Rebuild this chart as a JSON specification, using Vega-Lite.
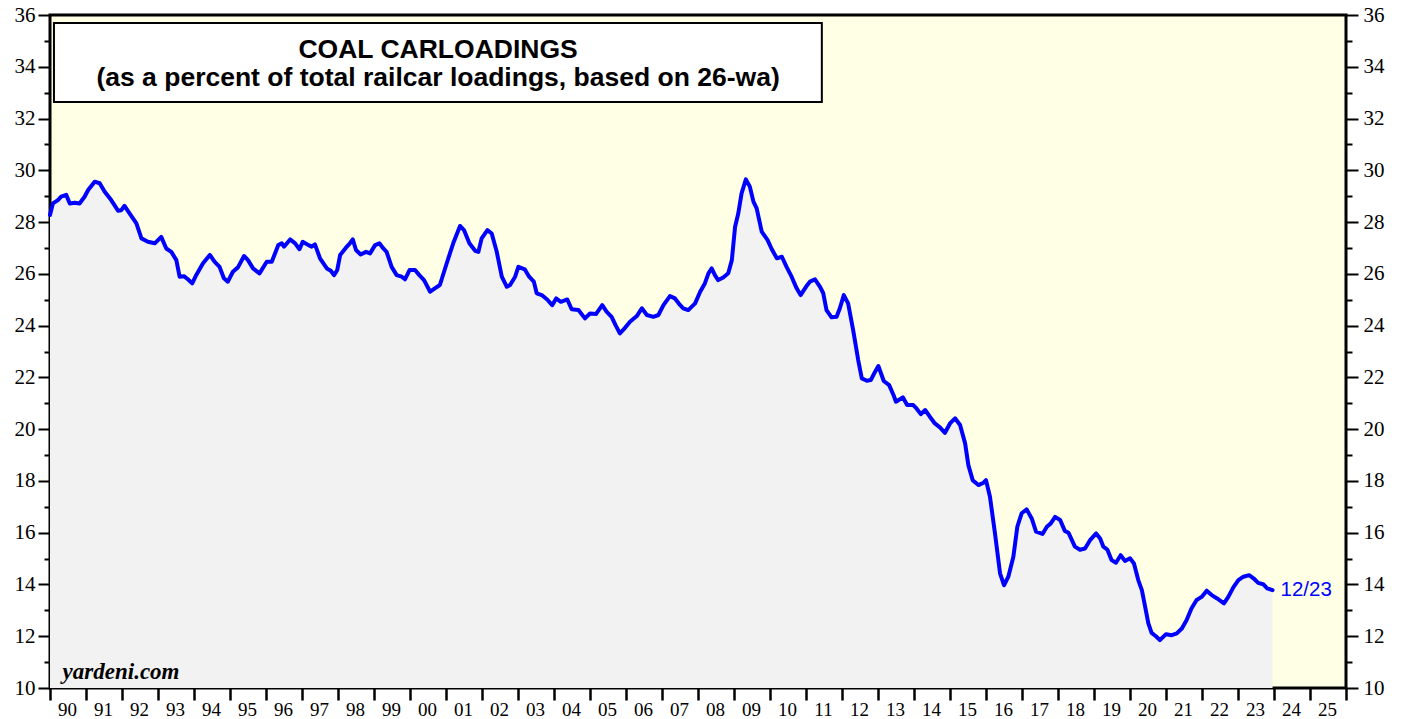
{
  "$schema": "https://vega.github.io/schema/vega-lite/v6.json",
  "width": 1296,
  "height": 673,
  "autosize": "none",
  "padding": {"left": 50, "top": 15, "right": 60, "bottom": 31},
  "background": "white",
  "title": {"text": "Figure 6.", "anchor": "start", "frame": "group", "dx": 17, "offset": 13, "baseline": "alphabetic", "font": "Liberation Sans", "fontSize": 24, "fontWeight": "bold", "color": "black"},
  "config": {
    "view": {"fill": "#FFFFE6", "stroke": "black", "strokeWidth": 3},
    "axis": {"domain": false, "grid": false, "labelFont": "Liberation Serif", "labelFontSize": 21, "labelColor": "black", "tickColor": "black", "labelOverlap": false, "labelFlush": false, "labelBound": false}
  },
  "data": {"values": [
    {"year": 1990.0, "value": 28.27}, {"year": 1990.08, "value": 28.72}, {"year": 1990.22, "value": 28.85}, {"year": 1990.31, "value": 28.98}, {"year": 1990.45, "value": 29.05}, {"year": 1990.55, "value": 28.72}, {"year": 1990.69, "value": 28.75}, {"year": 1990.82, "value": 28.72}, {"year": 1990.96, "value": 28.98}, {"year": 1991.06, "value": 29.24}, {"year": 1991.24, "value": 29.56}, {"year": 1991.38, "value": 29.5}, {"year": 1991.52, "value": 29.17}, {"year": 1991.7, "value": 28.85}, {"year": 1991.89, "value": 28.44}, {"year": 1991.98, "value": 28.46}, {"year": 1992.07, "value": 28.63}, {"year": 1992.21, "value": 28.34}, {"year": 1992.4, "value": 27.95}, {"year": 1992.54, "value": 27.37}, {"year": 1992.72, "value": 27.24}, {"year": 1992.91, "value": 27.18}, {"year": 1993.09, "value": 27.43}, {"year": 1993.23, "value": 26.98}, {"year": 1993.37, "value": 26.85}, {"year": 1993.51, "value": 26.53}, {"year": 1993.6, "value": 25.89}, {"year": 1993.72, "value": 25.91}, {"year": 1993.83, "value": 25.79}, {"year": 1993.95, "value": 25.63}, {"year": 1994.06, "value": 25.95}, {"year": 1994.25, "value": 26.41}, {"year": 1994.44, "value": 26.73}, {"year": 1994.57, "value": 26.47}, {"year": 1994.71, "value": 26.27}, {"year": 1994.83, "value": 25.83}, {"year": 1994.94, "value": 25.7}, {"year": 1995.08, "value": 26.08}, {"year": 1995.22, "value": 26.25}, {"year": 1995.39, "value": 26.69}, {"year": 1995.5, "value": 26.53}, {"year": 1995.64, "value": 26.21}, {"year": 1995.82, "value": 26.02}, {"year": 1996.02, "value": 26.47}, {"year": 1996.16, "value": 26.47}, {"year": 1996.25, "value": 26.79}, {"year": 1996.34, "value": 27.11}, {"year": 1996.44, "value": 27.18}, {"year": 1996.5, "value": 27.05}, {"year": 1996.67, "value": 27.33}, {"year": 1996.81, "value": 27.18}, {"year": 1996.93, "value": 26.95}, {"year": 1997.02, "value": 27.24}, {"year": 1997.18, "value": 27.11}, {"year": 1997.27, "value": 27.05}, {"year": 1997.36, "value": 27.14}, {"year": 1997.5, "value": 26.6}, {"year": 1997.69, "value": 26.21}, {"year": 1997.8, "value": 26.12}, {"year": 1997.89, "value": 25.95}, {"year": 1997.98, "value": 26.15}, {"year": 1998.06, "value": 26.73}, {"year": 1998.22, "value": 27.01}, {"year": 1998.33, "value": 27.18}, {"year": 1998.41, "value": 27.33}, {"year": 1998.5, "value": 26.92}, {"year": 1998.63, "value": 26.75}, {"year": 1998.78, "value": 26.85}, {"year": 1998.89, "value": 26.79}, {"year": 1999.03, "value": 27.11}, {"year": 1999.15, "value": 27.18}, {"year": 1999.26, "value": 26.98}, {"year": 1999.35, "value": 26.85}, {"year": 1999.49, "value": 26.27}, {"year": 1999.63, "value": 25.95}, {"year": 1999.77, "value": 25.89}, {"year": 1999.86, "value": 25.79}, {"year": 1999.99, "value": 26.15}, {"year": 2000.14, "value": 26.15}, {"year": 2000.26, "value": 25.95}, {"year": 2000.39, "value": 25.76}, {"year": 2000.56, "value": 25.31}, {"year": 2000.69, "value": 25.44}, {"year": 2000.83, "value": 25.57}, {"year": 2001.02, "value": 26.41}, {"year": 2001.2, "value": 27.18}, {"year": 2001.39, "value": 27.85}, {"year": 2001.5, "value": 27.69}, {"year": 2001.65, "value": 27.18}, {"year": 2001.81, "value": 26.89}, {"year": 2001.9, "value": 26.85}, {"year": 2001.99, "value": 27.37}, {"year": 2002.15, "value": 27.69}, {"year": 2002.27, "value": 27.56}, {"year": 2002.41, "value": 26.85}, {"year": 2002.55, "value": 25.89}, {"year": 2002.69, "value": 25.5}, {"year": 2002.78, "value": 25.57}, {"year": 2002.92, "value": 25.89}, {"year": 2003.01, "value": 26.27}, {"year": 2003.19, "value": 26.17}, {"year": 2003.31, "value": 25.89}, {"year": 2003.44, "value": 25.7}, {"year": 2003.52, "value": 25.25}, {"year": 2003.66, "value": 25.18}, {"year": 2003.81, "value": 25.01}, {"year": 2003.95, "value": 24.79}, {"year": 2004.06, "value": 25.05}, {"year": 2004.19, "value": 24.92}, {"year": 2004.37, "value": 25.01}, {"year": 2004.49, "value": 24.63}, {"year": 2004.68, "value": 24.6}, {"year": 2004.86, "value": 24.28}, {"year": 2005.0, "value": 24.47}, {"year": 2005.17, "value": 24.45}, {"year": 2005.34, "value": 24.79}, {"year": 2005.46, "value": 24.54}, {"year": 2005.6, "value": 24.34}, {"year": 2005.71, "value": 24.02}, {"year": 2005.83, "value": 23.7}, {"year": 2005.94, "value": 23.86}, {"year": 2006.11, "value": 24.15}, {"year": 2006.3, "value": 24.37}, {"year": 2006.44, "value": 24.67}, {"year": 2006.58, "value": 24.41}, {"year": 2006.76, "value": 24.34}, {"year": 2006.9, "value": 24.41}, {"year": 2007.04, "value": 24.79}, {"year": 2007.22, "value": 25.14}, {"year": 2007.36, "value": 25.05}, {"year": 2007.5, "value": 24.8}, {"year": 2007.59, "value": 24.67}, {"year": 2007.73, "value": 24.6}, {"year": 2007.92, "value": 24.86}, {"year": 2008.06, "value": 25.31}, {"year": 2008.19, "value": 25.63}, {"year": 2008.29, "value": 26.02}, {"year": 2008.38, "value": 26.21}, {"year": 2008.47, "value": 25.95}, {"year": 2008.56, "value": 25.76}, {"year": 2008.7, "value": 25.86}, {"year": 2008.84, "value": 26.02}, {"year": 2008.94, "value": 26.53}, {"year": 2009.03, "value": 27.82}, {"year": 2009.12, "value": 28.34}, {"year": 2009.21, "value": 29.11}, {"year": 2009.33, "value": 29.65}, {"year": 2009.44, "value": 29.37}, {"year": 2009.54, "value": 28.79}, {"year": 2009.63, "value": 28.53}, {"year": 2009.77, "value": 27.63}, {"year": 2009.93, "value": 27.31}, {"year": 2010.05, "value": 26.95}, {"year": 2010.19, "value": 26.6}, {"year": 2010.33, "value": 26.66}, {"year": 2010.46, "value": 26.27}, {"year": 2010.6, "value": 25.89}, {"year": 2010.74, "value": 25.44}, {"year": 2010.85, "value": 25.18}, {"year": 2011.0, "value": 25.5}, {"year": 2011.11, "value": 25.7}, {"year": 2011.25, "value": 25.79}, {"year": 2011.39, "value": 25.5}, {"year": 2011.48, "value": 25.25}, {"year": 2011.57, "value": 24.6}, {"year": 2011.71, "value": 24.32}, {"year": 2011.85, "value": 24.34}, {"year": 2011.94, "value": 24.67}, {"year": 2012.05, "value": 25.18}, {"year": 2012.17, "value": 24.86}, {"year": 2012.31, "value": 23.83}, {"year": 2012.45, "value": 22.67}, {"year": 2012.55, "value": 21.96}, {"year": 2012.69, "value": 21.87}, {"year": 2012.8, "value": 21.9}, {"year": 2012.92, "value": 22.22}, {"year": 2013.01, "value": 22.44}, {"year": 2013.16, "value": 21.86}, {"year": 2013.31, "value": 21.7}, {"year": 2013.43, "value": 21.32}, {"year": 2013.5, "value": 21.06}, {"year": 2013.69, "value": 21.23}, {"year": 2013.81, "value": 20.93}, {"year": 2013.98, "value": 20.93}, {"year": 2014.07, "value": 20.8}, {"year": 2014.19, "value": 20.58}, {"year": 2014.31, "value": 20.74}, {"year": 2014.44, "value": 20.48}, {"year": 2014.58, "value": 20.22}, {"year": 2014.72, "value": 20.07}, {"year": 2014.86, "value": 19.86}, {"year": 2015.0, "value": 20.22}, {"year": 2015.14, "value": 20.42}, {"year": 2015.28, "value": 20.16}, {"year": 2015.42, "value": 19.45}, {"year": 2015.51, "value": 18.61}, {"year": 2015.63, "value": 18.03}, {"year": 2015.79, "value": 17.84}, {"year": 2015.93, "value": 17.93}, {"year": 2016.0, "value": 18.03}, {"year": 2016.11, "value": 17.39}, {"year": 2016.25, "value": 15.97}, {"year": 2016.39, "value": 14.43}, {"year": 2016.5, "value": 13.97}, {"year": 2016.62, "value": 14.3}, {"year": 2016.76, "value": 15.07}, {"year": 2016.87, "value": 16.23}, {"year": 2016.99, "value": 16.75}, {"year": 2017.13, "value": 16.9}, {"year": 2017.27, "value": 16.55}, {"year": 2017.39, "value": 16.04}, {"year": 2017.57, "value": 15.95}, {"year": 2017.69, "value": 16.23}, {"year": 2017.8, "value": 16.36}, {"year": 2017.92, "value": 16.61}, {"year": 2018.06, "value": 16.49}, {"year": 2018.19, "value": 16.07}, {"year": 2018.29, "value": 16.0}, {"year": 2018.47, "value": 15.46}, {"year": 2018.61, "value": 15.34}, {"year": 2018.75, "value": 15.39}, {"year": 2018.89, "value": 15.71}, {"year": 2019.06, "value": 15.97}, {"year": 2019.17, "value": 15.78}, {"year": 2019.26, "value": 15.46}, {"year": 2019.37, "value": 15.35}, {"year": 2019.49, "value": 14.94}, {"year": 2019.61, "value": 14.84}, {"year": 2019.74, "value": 15.13}, {"year": 2019.86, "value": 14.91}, {"year": 2020.0, "value": 15.01}, {"year": 2020.11, "value": 14.81}, {"year": 2020.23, "value": 14.17}, {"year": 2020.33, "value": 13.78}, {"year": 2020.42, "value": 13.14}, {"year": 2020.51, "value": 12.5}, {"year": 2020.6, "value": 12.13}, {"year": 2020.72, "value": 12.0}, {"year": 2020.83, "value": 11.85}, {"year": 2021.0, "value": 12.08}, {"year": 2021.16, "value": 12.04}, {"year": 2021.3, "value": 12.11}, {"year": 2021.44, "value": 12.3}, {"year": 2021.57, "value": 12.62}, {"year": 2021.71, "value": 13.08}, {"year": 2021.85, "value": 13.4}, {"year": 2021.99, "value": 13.52}, {"year": 2022.13, "value": 13.76}, {"year": 2022.27, "value": 13.59}, {"year": 2022.42, "value": 13.46}, {"year": 2022.61, "value": 13.27}, {"year": 2022.73, "value": 13.52}, {"year": 2022.87, "value": 13.89}, {"year": 2023.01, "value": 14.17}, {"year": 2023.15, "value": 14.3}, {"year": 2023.31, "value": 14.36}, {"year": 2023.44, "value": 14.23}, {"year": 2023.56, "value": 14.06}, {"year": 2023.7, "value": 14.01}, {"year": 2023.81, "value": 13.85}, {"year": 2023.96, "value": 13.78}
  ]},
  "resolve": {"axis": {"y": "independent"}},
  "layer": [
    {
      "mark": {"type": "area", "color": "#F2F2F2", "clip": true},
      "encoding": {
        "x": {"field": "year", "type": "quantitative", "scale": {"domain": [1990, 2026], "nice": false, "zero": false},
          "axis": {"orient": "bottom", "title": null, "values": [1990,1991,1992,1993,1994,1995,1996,1997,1998,1999,2000,2001,2002,2003,2004,2005,2006,2007,2008,2009,2010,2011,2012,2013,2014,2015,2016,2017,2018,2019,2020,2021,2022,2023,2024,2025,2026], "format": "d", "labelExpr": "datum.value >= 2026 ? '' : slice(datum.label, 2)", "tickSize": 12, "tickWidth": 2.5, "labelOffset": 17, "labelPadding": 0, "labelFontSize": 19}},
        "y": {"field": "value", "type": "quantitative", "scale": {"domain": [10, 36], "nice": false, "zero": false},
          "axis": {"orient": "left", "title": null, "values": [10,11,12,13,14,15,16,17,18,19,20,21,22,23,24,25,26,27,28,29,30,31,32,33,34,35,36],
            "labelExpr": "datum.value % 2 ? '' : datum.label", "tickSize": {"condition": {"test": "datum.value % 2 == 1", "value": 6}, "value": 12}, "tickWidth": 2, "labelPadding": 3}},
        "y2": {"datum": 10}
      }
    },
    {
      "mark": {"type": "line", "color": "#0000FF", "strokeWidth": 4, "strokeJoin": "round", "strokeCap": "round"},
      "encoding": {
        "x": {"field": "year", "type": "quantitative",
          "axis": {"orient": "bottom", "title": null, "values": [1990,1991,1992,1993,1994,1995,1996,1997,1998,1999,2000,2001,2002,2003,2004,2005,2006,2007,2008,2009,2010,2011,2012,2013,2014,2015,2016,2017,2018,2019,2020,2021,2022,2023,2024,2025,2026], "format": "d", "labelExpr": "datum.value >= 2026 ? '' : slice(datum.label, 2)", "tickSize": 12, "tickWidth": 2.5, "labelOffset": 17, "labelPadding": 0, "labelFontSize": 19}},
        "y": {"field": "value", "type": "quantitative",
          "axis": {"orient": "right", "title": null, "values": [10,11,12,13,14,15,16,17,18,19,20,21,22,23,24,25,26,27,28,29,30,31,32,33,34,35,36],
            "labelExpr": "datum.value % 2 ? '' : datum.label", "tickSize": {"condition": {"test": "datum.value % 2 == 1", "value": 6}, "value": 12}, "tickWidth": 2, "labelPadding": 5}}
      }
    },
    {
      "data": {"values": [{"year": 1990.11, "year2": 2011.44, "value": 35.69, "value2": 32.64}]},
      "mark": {"type": "rect", "fill": "white", "stroke": "black", "strokeWidth": 2},
      "encoding": {
        "x": {"field": "year", "type": "quantitative",
          "axis": {"orient": "bottom", "title": null, "values": [1990,1991,1992,1993,1994,1995,1996,1997,1998,1999,2000,2001,2002,2003,2004,2005,2006,2007,2008,2009,2010,2011,2012,2013,2014,2015,2016,2017,2018,2019,2020,2021,2022,2023,2024,2025,2026], "format": "d", "labelExpr": "datum.value >= 2026 ? '' : slice(datum.label, 2)", "tickSize": 12, "tickWidth": 2.5, "labelOffset": 17, "labelPadding": 0, "labelFontSize": 19}},
        "x2": {"field": "year2"},
        "y": {"field": "value", "type": "quantitative", "axis": null},
        "y2": {"field": "value2"}
      }
    },
    {
      "data": {"values": [
        {"text": "COAL CARLOADINGS", "year": 2000.78, "value": 34.35},
        {"text": "(as a percent of total railcar loadings, based on 26-wa)", "year": 2000.78, "value": 33.25}
      ]},
      "mark": {"type": "text", "font": "Liberation Sans", "fontWeight": "bold", "fontSize": 26.5, "align": "center", "baseline": "alphabetic", "color": "black"},
      "encoding": {
        "x": {"field": "year", "type": "quantitative",
          "axis": {"orient": "bottom", "title": null, "values": [1990,1991,1992,1993,1994,1995,1996,1997,1998,1999,2000,2001,2002,2003,2004,2005,2006,2007,2008,2009,2010,2011,2012,2013,2014,2015,2016,2017,2018,2019,2020,2021,2022,2023,2024,2025,2026], "format": "d", "labelExpr": "datum.value >= 2026 ? '' : slice(datum.label, 2)", "tickSize": 12, "tickWidth": 2.5, "labelOffset": 17, "labelPadding": 0, "labelFontSize": 19}},
        "y": {"field": "value", "type": "quantitative", "axis": null},
        "text": {"field": "text"}
      }
    },
    {
      "data": {"values": [{"text": "yardeni.com", "year": 1990.35, "value": 10.35}]},
      "mark": {"type": "text", "font": "Liberation Serif", "fontWeight": "bold", "fontStyle": "italic", "fontSize": 23, "align": "left", "baseline": "alphabetic", "color": "black"},
      "encoding": {
        "x": {"field": "year", "type": "quantitative",
          "axis": {"orient": "bottom", "title": null, "values": [1990,1991,1992,1993,1994,1995,1996,1997,1998,1999,2000,2001,2002,2003,2004,2005,2006,2007,2008,2009,2010,2011,2012,2013,2014,2015,2016,2017,2018,2019,2020,2021,2022,2023,2024,2025,2026], "format": "d", "labelExpr": "datum.value >= 2026 ? '' : slice(datum.label, 2)", "tickSize": 12, "tickWidth": 2.5, "labelOffset": 17, "labelPadding": 0, "labelFontSize": 19}},
        "y": {"field": "value", "type": "quantitative", "axis": null},
        "text": {"field": "text"}
      }
    },
    {
      "data": {"values": [{"text": "12/23", "year": 2023.96, "value": 13.78}]},
      "mark": {"type": "text", "font": "Liberation Sans", "fontSize": 20.5, "align": "left", "baseline": "middle", "dx": 8, "color": "#0000FF"},
      "encoding": {
        "x": {"field": "year", "type": "quantitative",
          "axis": {"orient": "bottom", "title": null, "values": [1990,1991,1992,1993,1994,1995,1996,1997,1998,1999,2000,2001,2002,2003,2004,2005,2006,2007,2008,2009,2010,2011,2012,2013,2014,2015,2016,2017,2018,2019,2020,2021,2022,2023,2024,2025,2026], "format": "d", "labelExpr": "datum.value >= 2026 ? '' : slice(datum.label, 2)", "tickSize": 12, "tickWidth": 2.5, "labelOffset": 17, "labelPadding": 0, "labelFontSize": 19}},
        "y": {"field": "value", "type": "quantitative", "axis": null},
        "text": {"field": "text"}
      }
    }
  ]
}
